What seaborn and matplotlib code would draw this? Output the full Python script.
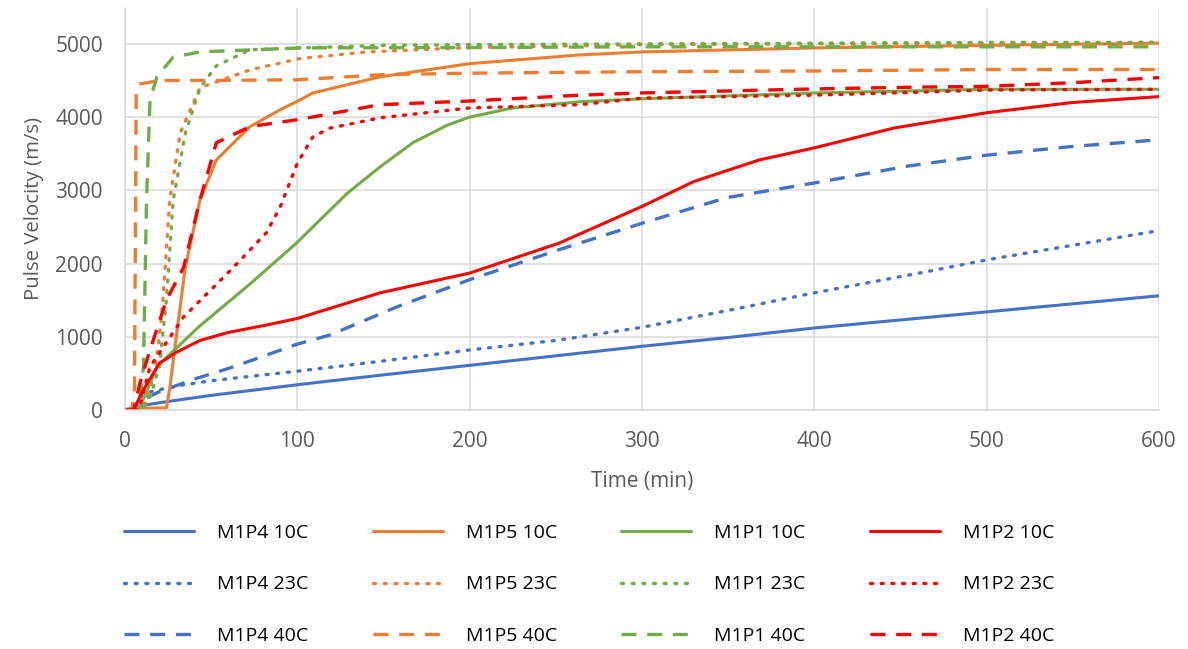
import matplotlib
matplotlib.use("Agg")
import matplotlib.pyplot as plt
import seaborn as sns
import pandas as pd
from matplotlib.lines import Line2D

# ---------------- data ----------------
P4_10_t = [0, 5, 10, 20, 50, 100, 150, 200, 250, 300, 350, 400, 450, 500, 550, 600]
P4_10_v = [0, 0, 60, 100, 200, 345, 480, 610, 740, 870, 990, 1120, 1230, 1340, 1450, 1560]

P4_23_t = [0, 5, 10, 15, 30, 50, 100, 150, 200, 252, 300, 350, 400, 461, 500, 550, 600]
P4_23_v = [0, 50, 200, 250, 330, 400, 530, 670, 820, 955, 1130, 1360, 1600, 1870, 2050, 2250, 2450]

P4_40_t = [0, 5, 10, 20, 40, 63, 100, 119, 158, 200, 252, 300, 349, 400, 454, 500, 550, 600]
P4_40_v = [0, 30, 140, 250, 420, 590, 900, 1025, 1410, 1780, 2190, 2550, 2900, 3100, 3330, 3480, 3600, 3690]

P5_10_t = [0, 5, 24, 26, 30, 35, 43.5, 53, 72.5, 90, 101.5, 109, 148, 200, 264, 300, 400, 500, 600]
P5_10_v = [0, 20, 30, 300, 1050, 1950, 2870, 3415, 3870, 4100, 4235, 4330, 4550, 4730, 4850, 4890, 4945, 4980, 5010]

P5_23_t = [0, 8, 12, 17, 20, 22, 26, 32, 43.5, 72.5, 101.5, 140, 200, 300, 400, 500, 600]
P5_23_v = [0, 0, 100, 500, 1000, 1500, 2870, 3780, 4400, 4645, 4800, 4890, 4950, 4990, 5000, 5010, 5020]

P5_40_t = [0, 4, 5.5, 6.5, 8, 20, 50, 100, 150, 200, 300, 400, 500, 600]
P5_40_v = [0, 0, 300, 4300, 4450, 4500, 4500, 4510, 4580, 4600, 4620, 4630, 4650, 4650]

P1_10_t = [0, 8, 18.5, 30, 43.5, 72.5, 100, 109, 129, 148, 167, 187, 200, 225, 264, 300, 400, 500, 600]
P1_10_v = [0, 0, 590, 850, 1150, 1720, 2290, 2500, 2960, 3320, 3650, 3890, 4000, 4125, 4210, 4250, 4330, 4380, 4380]

P1_23_t = [0, 10, 15, 20, 24, 28, 35, 43.5, 53, 72.5, 101.5, 150, 200, 300, 400, 500, 600]
P1_23_v = [0, 0, 200, 600, 1500, 2870, 3780, 4400, 4700, 4920, 4945, 4980, 4990, 5000, 5010, 5020, 5020]

P1_40_t = [0, 8, 10.7, 12.5, 14.5, 18.5, 28, 43.5, 101.5, 200, 300, 400, 500, 600]
P1_40_v = [0, 0, 590, 2870, 4235, 4550, 4820, 4890, 4945, 4950, 4960, 4960, 4960, 4960]

P2_10_t = [0, 5, 10, 20, 30, 43.5, 60, 82, 100, 148, 200, 252, 300, 330, 368, 400, 446, 500, 550, 600]
P2_10_v = [0, 0, 250, 640, 790, 950, 1060, 1160, 1250, 1600, 1870, 2280, 2780, 3120, 3415, 3580, 3850, 4060, 4200, 4280]

P2_23_t = [0, 8, 14.5, 34, 63, 82, 90, 100, 109, 119, 148, 200, 264, 300, 400, 461, 500, 600]
P2_23_v = [0, 0, 590, 1270, 1950, 2420, 2770, 3370, 3730, 3850, 3990, 4125, 4170, 4260, 4300, 4340, 4370, 4380]

P2_40_t = [0, 5, 8.7, 14.5, 24, 34, 43.5, 53, 72.5, 101.5, 148, 200, 264, 300, 400, 461, 500, 550, 600]
P2_40_v = [0, 0, 370, 820, 1500, 1950, 2870, 3650, 3870, 3970, 4170, 4220, 4300, 4330, 4385, 4410, 4420, 4470, 4540]

samples = ["M1P4", "M1P5", "M1P1", "M1P2"]
temps = ["10C", "23C", "40C"]
series = {
    ("M1P4", "10C"): (P4_10_t, P4_10_v), ("M1P4", "23C"): (P4_23_t, P4_23_v), ("M1P4", "40C"): (P4_40_t, P4_40_v),
    ("M1P5", "10C"): (P5_10_t, P5_10_v), ("M1P5", "23C"): (P5_23_t, P5_23_v), ("M1P5", "40C"): (P5_40_t, P5_40_v),
    ("M1P1", "10C"): (P1_10_t, P1_10_v), ("M1P1", "23C"): (P1_23_t, P1_23_v), ("M1P1", "40C"): (P1_40_t, P1_40_v),
    ("M1P2", "10C"): (P2_10_t, P2_10_v), ("M1P2", "23C"): (P2_23_t, P2_23_v), ("M1P2", "40C"): (P2_40_t, P2_40_v),
}

# ---------------- styling ----------------
colors = {"M1P4": "#4472C4", "M1P5": "#ED7D31", "M1P1": "#70AD47", "M1P2": "#FF0000"}
styles = {"10C": "-", "23C": (0, (0.6, 2.6)), "40C": (0, (4.5, 3.2))}
widths = {"10C": 2.2, "23C": 2.4, "40C": 2.4}

sns.set_theme(style="white")
plt.rcParams["font.family"] = ["Open Sans", "DejaVu Sans"]

W, H = 1188, 649
fig = plt.figure(figsize=(W / 100, H / 100), dpi=100)
ax = fig.add_axes([125 / W, 1 - 410 / H, (1159 - 125) / W, (410 - 8) / H])

col_handles = {s: [] for s in samples}
for s in samples:
    for tp in temps:
        t, v = series[(s, tp)]
        df = pd.DataFrame({"t": t, "v": v})
        sns.lineplot(data=df, x="t", y="v", ax=ax, color=colors[s], linewidth=widths[tp],
                     linestyle=styles[tp], legend=False, estimator=None, sort=False)
        cap = "round" if tp == "23C" else "butt"
        ax.lines[-1].set_dash_capstyle(cap)
        h = Line2D([], [], color=colors[s], linewidth=widths[tp], linestyle=styles[tp],
                   dash_capstyle=cap)
        col_handles[s].append((h, f"{s} {tp}"))

ax.set_xlim(0, 600)
ax.set_ylim(0, 5490)
ax.set_xticks(range(0, 601, 100))
ax.set_yticks(range(0, 5001, 1000))
ax.grid(True, color="#D9D9D9", linewidth=1.1)
ax.set_axisbelow(True)
for sp in ["top", "right"]:
    ax.spines[sp].set_visible(False)
for sp in ["left", "bottom"]:
    ax.spines[sp].set_color("#D9D9D9")
    ax.spines[sp].set_linewidth(1.1)
ax.tick_params(axis="both", length=0, labelsize=15, labelcolor="#595959")
ax.tick_params(axis="x", pad=15)
ax.tick_params(axis="y", pad=16)
ax.set_xlabel("Time (min)", fontsize=15, color="#595959", labelpad=14)
ax.set_ylabel("Pulse Velocity (m/s)", fontsize=14.7, color="#595959", labelpad=8)

# legend: one column per sample, placed at the reference column positions
col_x = [124, 373, 621, 870]
for s, x0 in zip(samples, col_x):
    hs = col_handles[s]
    leg = fig.legend([h for h, _ in hs], [l for _, l in hs], loc="upper left",
                     bbox_to_anchor=(x0 / W, 1 - 524 / H), borderaxespad=0, borderpad=0,
                     frameon=False, fontsize=14, handlelength=3.6, handletextpad=1.2,
                     labelspacing=1.72)
    for txt in leg.get_texts():
        txt.set_color("#000000")

fig.savefig("out.png", dpi=100)
